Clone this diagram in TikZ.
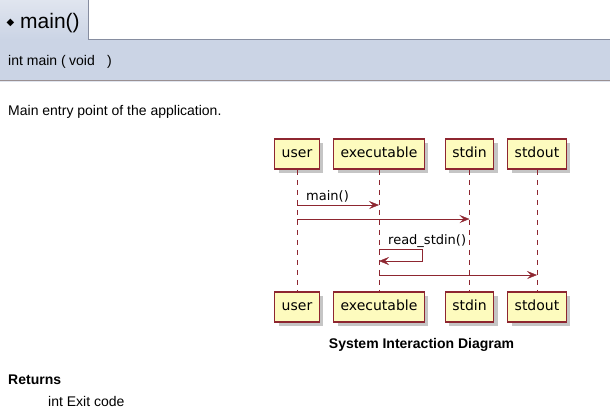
\documentclass[tikz,border=0pt]{standalone}
\usepackage{fontspec}
\setmainfont{Liberation Sans}
\newfontfamily\umlfont{DejaVu Sans}
\usetikzlibrary{arrows.meta,shadows}
\definecolor{umlred}{HTML}{8E2630}
\definecolor{umlfill}{HTML}{FDFBBE}
\definecolor{protoblue}{HTML}{CBD4E5}
\definecolor{titletop}{HTML}{E0E5EF}
\definecolor{protoline}{HTML}{868DA0}
\definecolor{protobottom}{HTML}{9A9092}

\begin{document}
\begin{tikzpicture}[x=1pt, y=-1pt,
    party/.style = {shape=rectangle, draw=umlred, line width=1.5pt, fill=umlfill,
      minimum height=30pt, inner xsep=7pt, text height=10.5pt, text depth=3pt,
      font=\umlfont\fontsize{14}{16}\selectfont,
      drop shadow={shadow xshift=4pt, shadow yshift=-4pt, fill=black!45}},
    life/.style = {draw=umlred, dash pattern=on 5pt off 5pt},
    msg/.style = {draw=umlred, -{Stealth[length=10pt, width=8pt, inset=4pt]}},
    msglabel/.style = {font=\umlfont\fontsize{13}{15}\selectfont, anchor=base west, inner sep=0pt},
    doc/.style = {anchor=base west, inner sep=0pt, font=\fontsize{14}{16}\selectfont}]
    \useasboundingbox (0,0) rectangle (610,416);

    % title tab and prototype band
    \fill[protoblue] (0,39) rectangle (610,80);
    \shade[top color=titletop, bottom color=protoblue] (0,0) rectangle (88,39.5);
    \draw[protoline] (88,0) -- (88,39) -- (610,39);
    \draw[protobottom] (0,80) -- (610,80);
    \draw[protoblue!60] (0,81.5) -- (610,81.5);
    \node (bullet) [anchor=base west, inner sep=0pt, font=\umlfont\fontsize{10}{10}\selectfont] at (6.5,25) {◆};
    \node (title) [anchor=base west, inner sep=0pt, font=\fontsize{21}{24}\selectfont] at (20,28) {main()};
    \node (proto) [doc] at (8,65) {int main (};
    \node (param) [doc] at (69,65) {void};
    \node (close) [doc] at (107,65) {)};
    \node (brief) [doc] at (8,115) {Main entry point of the application.};

    % sequence diagram
    \node (user) [party] at (297,154) {user};
    \node (exe) [party] at (379,154) {executable};
    \node (stdin) [party] at (469.5,154) {stdin};
    \node (stdout) [party] at (537,154) {stdout};
    \node (userB) [party] at (297,307) {user};
    \node (exeB) [party] at (379,307) {executable};
    \node (stdinB) [party] at (469.5,307) {stdin};
    \node (stdoutB) [party] at (537,307) {stdout};
    \draw[life] (user) -- (userB);
    \draw[life] (exe) -- (exeB);
    \draw[life] (stdin) -- (stdinB);
    \draw[life] (stdout) -- (stdoutB);

    \node (lmain) [msglabel] at (306,200) {main()};
    \draw[msg] (user |- 0,205) -- (exe |- 0,205);
    \draw[msg] (user |- 0,219) -- (stdin |- 0,219);
    \node (lread) [msglabel] at (388,244) {read\_stdin()};
    \draw[msg] (exe |- 0,249) -- ++(43,0) -- ++(0,12) -- (exe |- 0,261);
    \draw[msg] (exe |- 0,275) -- (stdout |- 0,275);

    \node (caption) [anchor=base, inner sep=0pt, font=\bfseries\fontsize{14}{16}\selectfont] at (421.5,348) {System Interaction Diagram};

    % returns section
    \node (ret) [doc, font=\bfseries\fontsize{14}{16}\selectfont] at (8,384) {Returns};
    \node (retval) [doc] at (48,406) {int Exit code};
\end{tikzpicture}
\end{document}
